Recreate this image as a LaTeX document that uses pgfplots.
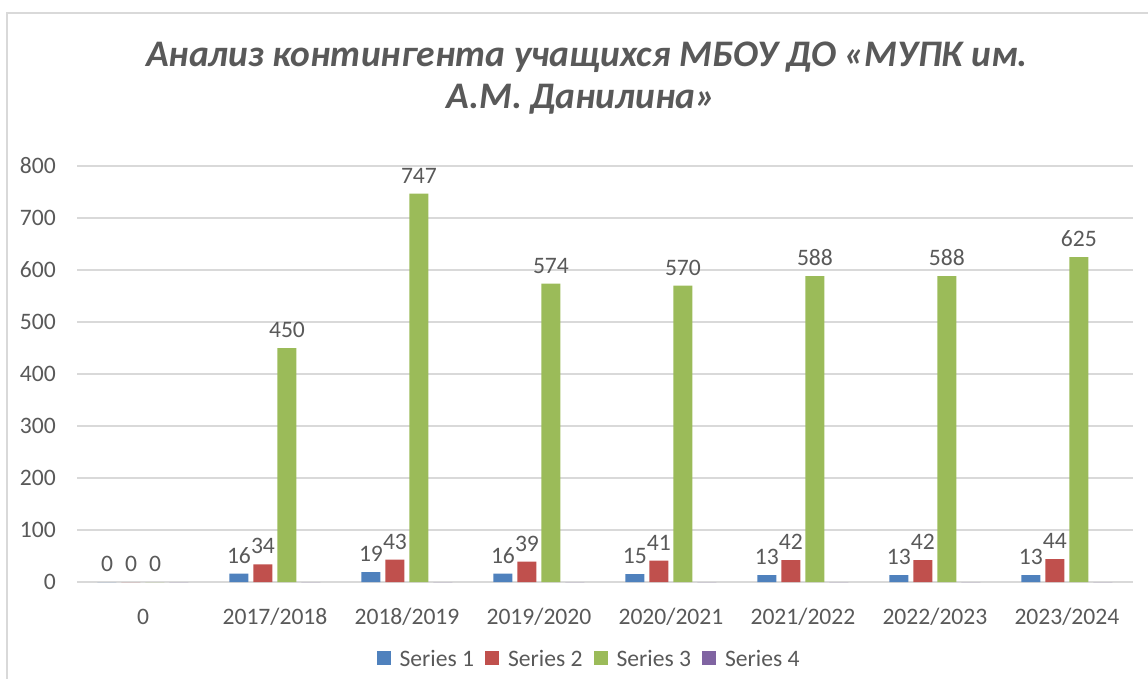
\documentclass[border=0pt]{standalone}
\usepackage{pgfplots}
\pgfplotsset{compat=1.18}
\usepackage{fontspec}
\setmainfont{Carlito}
\definecolor{txt}{HTML}{595959}
\definecolor{gridc}{HTML}{D9D9D9}
\definecolor{s1}{HTML}{4F81BD}
\definecolor{s2}{HTML}{C0504D}
\definecolor{s3}{HTML}{9BBB59}
\definecolor{s4}{HTML}{8064A2}
\newcommand{\lbl}{\fontsize{23.6}{28}\selectfont}
\begin{document}
\begin{tikzpicture}[x=1pt,y=1pt]
\begin{axis}[
  at={(77pt,96pt)}, anchor=south west,
  scale only axis, width=1056pt, height=416pt,
  xmin=-0.5, xmax=7.5, ymin=0, ymax=800,
  ybar=5pt, bar width=19pt,
  /pgf/number format/assume math mode=true,
  ytick={0,100,...,800},
  xtick={0,...,7},
  xticklabels={0,2017/2018,2018/2019,2019/2020,2020/2021,2021/2022,2022/2023,2023/2024},
  ymajorgrids, grid style={color=gridc, line width=1.3pt},
  axis line style={draw=none}, major tick length=0pt,
  tick label style={font=\lbl, text=txt},
  yticklabel style={anchor=east, inner sep=0pt, xshift=-21pt},
  xticklabel style={anchor=base, inner sep=0pt, yshift=-42pt},
  clip=false,
  nodes near coords style={font=\lbl, text=txt, anchor=south, inner sep=0pt, yshift=10pt},
  legend columns=4,
  legend style={at={(0.484,-0.1827)}, anchor=center, draw=none, fill=none,
    font=\lbl, text=txt,
    /tikz/every odd column/.append style={column sep=9pt},
    /tikz/every even column/.append style={column sep=11pt},
    nodes={inner sep=0pt, text depth=0pt}},
  legend image code/.code={\fill[#1] (0pt,-7pt) rectangle (14pt,7pt);},
]
\addplot[fill=s1, draw=none, nodes near coords] coordinates {(0,0) (1,16) (2,19) (3,16) (4,15) (5,13) (6,13) (7,13)};
\addplot[fill=s2, draw=none, nodes near coords] coordinates {(0,0) (1,34) (2,43) (3,39) (4,41) (5,42) (6,42) (7,44)};
\addplot[fill=s3, draw=none, nodes near coords] coordinates {(0,0) (1,450) (2,747) (3,574) (4,570) (5,588) (6,588) (7,625)};
\addplot[fill=s4, draw=none] coordinates {(0,0) (1,0) (2,0) (3,0) (4,0) (5,0) (6,0) (7,0)};
\legend{Series 1, Series 2, Series 3, Series 4}
\end{axis}
\node[anchor=base, font=\fontsize{37.5}{44}\selectfont\bfseries\itshape, text=txt] at (587,611) {Анализ контингента учащихся МБОУ ДО «МУПК им.};
\node[anchor=base, font=\fontsize{37.5}{44}\selectfont\bfseries\itshape, text=txt] at (581,569) {А.М. Данилина»};
\draw[gridc, line width=1.5pt] (7,665) rectangle (1170,-30);
\pgfresetboundingbox
\path (0,0) rectangle (1148,678);
\end{tikzpicture}
\end{document}
